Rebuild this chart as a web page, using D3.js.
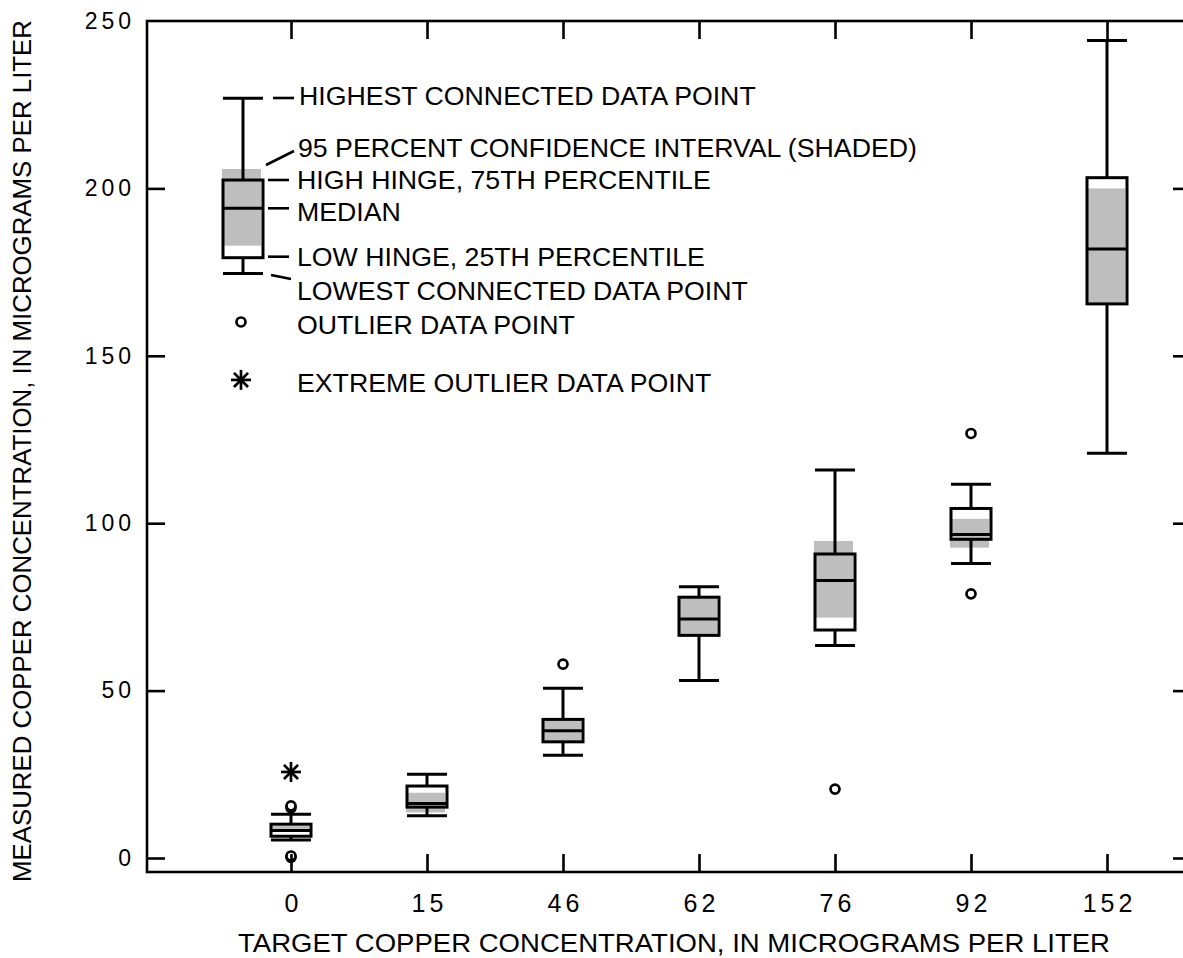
<!DOCTYPE html>
<html>
<head>
<meta charset="utf-8">
<script src="https://cdn.jsdelivr.net/npm/d3@7"></script>
<style>
  html, body { margin: 0; padding: 0; background: #fff; }
  svg { display: block; }
  text { font-family: "Liberation Sans", Arial, Helvetica, sans-serif; fill: #000; }
</style>
</head>
<body>
<svg id="chart" width="1183" height="958"></svg>
<script>
// ---------------- DATA ----------------
const categories   = ["0", "15", "46", "62", "76", "92", "152"];
const whiskerLow   = [5.4, 12.6, 30.7, 53.0, 63.5, 88.0, 120.9];
const hingeLow     = [6.5, 15.2, 34.7, 66.5, 68.1, 95.2, 165.5];
const medians      = [8.2, 16.3, 38.0, 71.4, 82.9, 96.6, 181.9];
const hingeHigh    = [10.1, 21.5, 41.4, 77.9, 90.8, 104.4, 203.2];
const whiskerHigh  = [13.1, 25.0, 50.7, 81.0, 115.9, 111.6, 244.2];
const ciLow        = [8.0, 13.6, 34.8, 66.6, 71.8, 92.7, 165.6];
const ciHigh       = [9.6, 19.5, 41.3, 77.8, 94.7, 101.3, 200.0];
const outliers     = [[0.2, 0.6, 15.0, 15.6], [], [57.9], [], [20.6], [78.9, 126.8], []];
const extremes     = [[25.7], [], [], [], [], [], []];

const yTicks       = [0, 50, 100, 150, 200, 250];
const yTickMarks   = [0, 50, 100, 150, 200];

// Explanation (legend) box sample values
const legendWhisker = [174.6, 226.9];
const legendHinges  = [179.3, 202.5];
const legendMedian  = [194.1];
const legendCI      = [182.9, 205.8];
const legendOutlier = [160.1];
const legendExtreme = [142.8];
const legendLabels  = [
  "HIGHEST CONNECTED DATA POINT",
  "95 PERCENT CONFIDENCE INTERVAL (SHADED)",
  "HIGH HINGE, 75TH PERCENTILE",
  "MEDIAN",
  "LOW HINGE, 25TH PERCENTILE",
  "LOWEST CONNECTED DATA POINT",
  "OUTLIER DATA POINT",
  "EXTREME OUTLIER DATA POINT"
];

const xTitle = "TARGET COPPER CONCENTRATION, IN MICROGRAMS PER LITER";
const yTitle = "MEASURED COPPER CONCENTRATION, IN MICROGRAMS PER LITER";

// ---------------- LAYOUT ----------------
const L = 147, T = 21, B = 872, R = 1191;
const boxW = 40, shadeOff = -21, shadeW = 39;
const lw = 3;
const shade = "#bebebe";

const svg = d3.select("#chart");

const x = d3.scalePoint().domain(categories).range([291, 1107]);
const y = d3.scaleLinear().domain([-4.18, 250]).range([B, T]);

// ---------- Boxes ----------
function drawBox(g, cx, wl, q1, med, q3, wh, cl, ch) {
  g.append("rect").attr("x", cx - boxW/2).attr("y", y(q3))
    .attr("width", boxW).attr("height", y(q1) - y(q3)).attr("fill", "#fff");
  g.append("rect").attr("x", cx + shadeOff).attr("y", y(ch))
    .attr("width", shadeW).attr("height", y(cl) - y(ch)).attr("fill", shade);
  g.append("line").attr("x1", cx).attr("x2", cx).attr("y1", y(q3)).attr("y2", y(wh))
    .attr("stroke", "#000").attr("stroke-width", lw);
  g.append("line").attr("x1", cx).attr("x2", cx).attr("y1", y(q1)).attr("y2", y(wl))
    .attr("stroke", "#000").attr("stroke-width", lw);
  g.append("line").attr("x1", cx - boxW/2).attr("x2", cx + boxW/2).attr("y1", y(wh)).attr("y2", y(wh))
    .attr("stroke", "#000").attr("stroke-width", lw);
  g.append("line").attr("x1", cx - boxW/2).attr("x2", cx + boxW/2).attr("y1", y(wl)).attr("y2", y(wl))
    .attr("stroke", "#000").attr("stroke-width", lw);
  g.append("rect").attr("x", cx - boxW/2).attr("y", y(q3))
    .attr("width", boxW).attr("height", y(q1) - y(q3))
    .attr("fill", "none").attr("stroke", "#000").attr("stroke-width", lw);
  g.append("line").attr("x1", cx - boxW/2).attr("x2", cx + boxW/2).attr("y1", y(med)).attr("y2", y(med))
    .attr("stroke", "#000").attr("stroke-width", lw);
}

function drawOutlier(g, cx, v) {
  g.append("circle").attr("cx", cx).attr("cy", y(v)).attr("r", 4.5)
    .attr("fill", "#fff").attr("stroke", "#000").attr("stroke-width", 2.7);
}
function drawExtreme(g, cx, v) {
  const cy = y(v), s = 10;
  const a = g.append("g").attr("transform", `translate(${cx},${cy})`);
  [0, 45, 90, 135].forEach(ang => {
    const r = ang * Math.PI / 180;
    a.append("line")
      .attr("x1", -s * Math.cos(r)).attr("y1", -s * Math.sin(r))
      .attr("x2", s * Math.cos(r)).attr("y2", s * Math.sin(r))
      .attr("stroke", "#000").attr("stroke-width", 2.7);
  });
}

const gBoxes = svg.append("g");
categories.forEach((c, i) => {
  const cx = x(c);
  drawBox(gBoxes, cx, whiskerLow[i], hingeLow[i], medians[i], hingeHigh[i], whiskerHigh[i], ciLow[i], ciHigh[i]);
  outliers[i].forEach(v => drawOutlier(gBoxes, cx, v));
  extremes[i].forEach(v => drawExtreme(gBoxes, cx, v));
});

// ---------- Legend (explanation) ----------
const lx = 243;
const gLeg = svg.append("g");
drawBox(gLeg, lx, legendWhisker[0], legendHinges[0], legendMedian[0], legendHinges[1], legendWhisker[1], legendCI[0], legendCI[1]);
drawOutlier(gLeg, lx - 2, legendOutlier[0]);
drawExtreme(gLeg, lx - 2, legendExtreme[0]);

const legendCapCenters = [95.5, 147.7, 179.7, 211.5, 256.3, 290.5, 324.5, 382];
const legendTextX      = [299, 298, 297, 297, 297, 297, 297, 297];
legendLabels.forEach((t, i) => {
  gLeg.append("text").attr("x", legendTextX[i]).attr("y", legendCapCenters[i] + 9.5)
    .attr("font-size", 26.7).text(t);
});
const leaders = [
  [273, 98, 294, 98],
  [266, 165, 294, 151],
  [268, 180, 289, 180],
  [268, 208.3, 289, 208.3],
  [268, 256.7, 289, 256.7],
  [271, 275, 291, 279]
];
leaders.forEach(d => {
  gLeg.append("line").attr("x1", d[0]).attr("y1", d[1]).attr("x2", d[2]).attr("y2", d[3])
    .attr("stroke", "#000").attr("stroke-width", 2.6);
});

// ---------- Axes ----------
const gAx = svg.append("g");
const leftAxis = d3.axisLeft(y).tickValues(yTicks).tickSizeInner(-18).tickSizeOuter(0).tickPadding(12)
  .tickFormat(d3.format("d"));
const gl = gAx.append("g").attr("transform", `translate(${L},0)`).call(leftAxis);
gl.select(".domain").remove();
gl.selectAll(".tick line").attr("stroke", "#000").attr("stroke-width", 2.6)
  .filter(d => !yTickMarks.includes(d)).remove();
gl.selectAll(".tick text").attr("font-size", 23).attr("letter-spacing", "4px")
  .attr("font-family", "Liberation Sans, Arial, sans-serif").attr("fill", "#000");

const rightAxis = d3.axisRight(y).tickValues(yTickMarks).tickSizeInner(-18).tickSizeOuter(0).tickFormat("");
const gr = gAx.append("g").attr("transform", `translate(${R},0)`).call(rightAxis);
gr.select(".domain").remove();
gr.selectAll(".tick line").attr("stroke", "#000").attr("stroke-width", 2.6);

const bottomAxis = d3.axisBottom(x).tickSizeInner(-18).tickSizeOuter(0).tickPadding(22);
const gb = gAx.append("g").attr("transform", `translate(0,${B})`).call(bottomAxis);
gb.select(".domain").remove();
gb.selectAll(".tick line").attr("stroke", "#000").attr("stroke-width", 2.6);
gb.selectAll(".tick text").attr("font-size", 25).attr("letter-spacing", "4px")
  .attr("font-family", "Liberation Sans, Arial, sans-serif").attr("fill", "#000")
  .attr("transform", "translate(2,0)");

const topAxis = d3.axisTop(x).tickSizeInner(-18).tickSizeOuter(0).tickFormat("");
const gt = gAx.append("g").attr("transform", `translate(0,${T})`).call(topAxis);
gt.select(".domain").remove();
gt.selectAll(".tick line").attr("stroke", "#000").attr("stroke-width", 2.6);

gAx.append("rect").attr("x", L).attr("y", T).attr("width", R - L).attr("height", B - T)
  .attr("fill", "none").attr("stroke", "#000").attr("stroke-width", 2.6);

svg.append("text").attr("x", 674).attr("y", 952).attr("text-anchor", "middle")
  .attr("font-size", 26).attr("textLength", 872).attr("lengthAdjust", "spacingAndGlyphs")
  .text(xTitle);
svg.append("text").attr("transform", "translate(31,451) rotate(-90)").attr("text-anchor", "middle")
  .attr("font-size", 25).attr("textLength", 862).attr("lengthAdjust", "spacingAndGlyphs")
  .text(yTitle);
</script>
</body>
</html>
